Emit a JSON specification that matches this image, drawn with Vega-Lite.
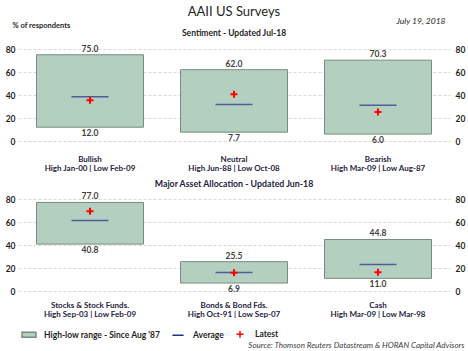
{
  "$schema": "https://vega.github.io/schema/vega-lite/v6.json",
  "padding": {"left": 5, "right": 4, "top": 5, "bottom": 0},
  "background": "white",
  "config": {
    "font": "Lato",
    "view": {"stroke": null},
    "axis": {"domain": false, "ticks": false, "labelFontSize": 8.5, "labelFontWeight": "bold", "labelColor": "#1f1f1f"},
    "axisY": {"values": [0, 20, 40, 60, 80], "gridDash": [3, 2], "gridColor": "#d9d9d9", "gridWidth": 1},
    "concat": {"spacing": 6}
  },
  "title": {
    "text": "AAII US Surveys",
    "subtitle": "Sentiment - Updated Jul-18",
    "fontSize": 13,
    "fontWeight": "normal",
    "color": "#1f1f1f",
    "subtitleFontSize": 8.5,
    "subtitleFontWeight": "bold",
    "subtitleColor": "#1f1f1f",
    "subtitlePadding": 10,
    "anchor": "middle",
    "frame": "group",
    "offset": -21
  },
  "datasets": {
    "sentiment": [
      {"label": "Bullish\nHigh Jan-00 | Low Feb-09", "high": 75.0, "low": 12.0, "avg": 38.5, "latest": 35.4},
      {"label": "Neutral\nHigh Jun-88 | Low Oct-08", "high": 62.0, "low": 7.7, "avg": 31.7, "latest": 40.6},
      {"label": "Bearish\nHigh Mar-09 | Low Aug-87", "high": 70.3, "low": 6.0, "avg": 31.0, "latest": 25.2}
    ],
    "allocation": [
      {"label": "Stocks & Stock Funds.\nHigh Sep-03 | Low Feb-09", "high": 77.0, "low": 40.8, "avg": 61.4, "latest": 69.3},
      {"label": "Bonds & Bond Fds.\nHigh Oct-91 | Low Sep-07", "high": 25.5, "low": 6.9, "avg": 16.0, "latest": 15.8},
      {"label": "Cash\nHigh Mar-09 | Low Mar-98", "high": 44.8, "low": 11.0, "avg": 23.1, "latest": 16.4}
    ]
  },
  "vconcat": [
    {
      "width": 432,
      "height": 92,
      "data": {"name": "sentiment"},
      "encoding": {
        "x": {
          "field": "label", "type": "nominal", "sort": null,
          "scale": {"paddingInner": 0.257, "paddingOuter": 0.1285},
          "axis": {"title": null, "labelAngle": 0, "labelPadding": 14, "labelLineHeight": 9.5, "labelFontSize": 8, "labelColor": "#1f2340", "labelExpr": "split(datum.value, '\\n')"}
        }
      },
      "layer": [
        {
          "layer": [
            {
              "mark": {"type": "bar", "fill": "#b3cfc0", "stroke": "#7a8a82", "strokeWidth": 1},
              "encoding": {
                "y": {"field": "high", "type": "quantitative", "scale": {"domain": [0, 80], "nice": false},
                  "axis": {"orient": "left", "grid": true, "labelPadding": 3, "title": "% of respondents", "titleAngle": 0, "titleAlign": "left", "titleBaseline": "middle", "titleX": -6, "titleY": -24, "titleFontSize": 7.5, "titleFontWeight": "bold", "titleColor": "#1f1f1f"}},
                "y2": {"field": "low"}
              }
            },
            {
              "mark": {"type": "tick", "color": "#1f2f8f", "thickness": 1.5, "size": 37},
              "encoding": {"y": {"field": "avg", "type": "quantitative", "title": "% of respondents"}}
            },
            {
              "mark": {"type": "point", "shape": "M-1,0H1M0,-1V1", "filled": false, "stroke": "#ff0000", "strokeWidth": 2, "size": 49, "opacity": 1},
              "encoding": {"y": {"field": "latest", "type": "quantitative", "title": "% of respondents"}}
            },
            {
              "mark": {"type": "text", "baseline": "bottom", "dy": -1, "fontSize": 8.5, "fontWeight": "bold", "color": "#404040"},
              "encoding": {"y": {"field": "high", "type": "quantitative", "title": "% of respondents"}, "text": {"field": "high", "format": ".1f"}}
            },
            {
              "mark": {"type": "text", "baseline": "top", "dy": 2, "fontSize": 8.5, "fontWeight": "bold", "color": "#404040"},
              "encoding": {"y": {"field": "low", "type": "quantitative", "title": "% of respondents"}, "text": {"field": "low", "format": ".1f"}}
            }
          ]
        },
        {
          "mark": {"type": "bar", "opacity": 0},
          "encoding": {
            "y": {"field": "high", "type": "quantitative", "scale": {"domain": [0, 80], "nice": false},
              "axis": {"orient": "right", "grid": false, "labelPadding": 5, "title": "July 19, 2018", "titleAngle": 0, "titleAlign": "right", "titleBaseline": "middle", "titleX": -5, "titleY": -29, "titleFontSize": 8.5, "titleFontWeight": "normal", "titleFontStyle": "italic", "titleColor": "#1f1f1f"}}
          }
        }
      ],
      "resolve": {"scale": {"y": "independent"}}
    },
    {
      "width": 432,
      "height": 92,
      "data": {"name": "allocation"},
      "title": {"text": "Major Asset Allocation - Updated Jun-18", "fontSize": 8.8, "fontWeight": "bold", "color": "#1f2340", "offset": 4, "frame": "group", "anchor": "middle"},
      "encoding": {
        "x": {
          "field": "label", "type": "nominal", "sort": null,
          "scale": {"paddingInner": 0.257, "paddingOuter": 0.1285},
          "axis": {"title": "Source: Thomson Reuters Datastream & HORAN Capital Advisors", "titleX": 446, "titleY": 54, "titleAlign": "right", "titleBaseline": "middle", "titleFontSize": 8, "titleFontStyle": "italic", "titleFontWeight": "normal", "titleColor": "#404040", "labelAngle": 0, "labelPadding": 10, "labelLineHeight": 9.5, "labelFontSize": 8, "labelColor": "#1f2340", "labelExpr": "split(datum.value, '\\n')"}
        }
      },
      "layer": [
        {
          "layer": [
            {
              "mark": {"type": "bar", "fill": "#b3cfc0", "stroke": "#7a8a82", "strokeWidth": 1},
              "encoding": {
                "y": {"field": "high", "type": "quantitative", "scale": {"domain": [0, 80], "nice": false},
                  "axis": {"orient": "left", "grid": true, "labelPadding": 3, "title": null}},
                "y2": {"field": "low"}
              }
            },
            {
              "mark": {"type": "tick", "color": "#1f2f8f", "thickness": 1.5, "size": 37},
              "encoding": {"y": {"field": "avg", "type": "quantitative", "title": null}}
            },
            {
              "mark": {"type": "point", "filled": false, "strokeWidth": 2, "size": 196, "opacity": 1},
              "encoding": {
                "y": {"field": "latest", "type": "quantitative", "title": null},
                "shape": {
                  "datum": "Latest", "type": "nominal",
                  "scale": {"domain": ["High-low range - Since Aug '87", "Average", "Latest"], "range": ["M-1,-0.35H1V0.35H-1Z", "M-0.8,0H0.8", "M-0.5,0H0.5M0,-0.5V0.5"]},
                  "legend": {"orient": "none", "legendX": 3, "legendY": 277, "direction": "horizontal", "title": null, "labelFontSize": 8.5, "labelFontWeight": "bold", "labelColor": "#1f1f1f", "labelOffset": 7, "columnPadding": 8, "symbolSize": 196, "symbolStrokeWidth": 1.5}
                },
                "fill": {
                  "datum": "Latest", "type": "nominal",
                  "scale": {"domain": ["High-low range - Since Aug '87", "Average", "Latest"], "range": ["#b3cfc0", "#1f2f8f", "#ff0000"]},
                  "legend": {"orient": "none", "legendX": 3, "legendY": 277, "direction": "horizontal", "title": null, "labelFontSize": 8.5, "labelFontWeight": "bold", "labelColor": "#1f1f1f", "labelOffset": 7, "columnPadding": 8, "symbolSize": 196, "symbolStrokeWidth": 1.5}
                },
                "stroke": {
                  "datum": "Latest", "type": "nominal",
                  "scale": {"domain": ["High-low range - Since Aug '87", "Average", "Latest"], "range": ["#7a8a82", "#1f2f8f", "#ff0000"]},
                  "legend": {"orient": "none", "legendX": 3, "legendY": 277, "direction": "horizontal", "title": null, "labelFontSize": 8.5, "labelFontWeight": "bold", "labelColor": "#1f1f1f", "labelOffset": 7, "columnPadding": 8, "symbolSize": 196, "symbolStrokeWidth": 1.5}
                }
              }
            },
            {
              "mark": {"type": "text", "baseline": "bottom", "dy": -1, "fontSize": 8.5, "fontWeight": "bold", "color": "#404040"},
              "encoding": {"y": {"field": "high", "type": "quantitative", "title": null}, "text": {"field": "high", "format": ".1f"}}
            },
            {
              "mark": {"type": "text", "baseline": "top", "dy": 2, "fontSize": 8.5, "fontWeight": "bold", "color": "#404040"},
              "encoding": {"y": {"field": "low", "type": "quantitative", "title": null}, "text": {"field": "low", "format": ".1f"}}
            }
          ]
        },
        {
          "mark": {"type": "bar", "opacity": 0},
          "encoding": {
            "y": {"field": "high", "type": "quantitative", "scale": {"domain": [0, 80], "nice": false},
              "axis": {"orient": "right", "grid": false, "labelPadding": 5, "title": null}}
          }
        }
      ],
      "resolve": {"scale": {"y": "independent"}}
    }
  ]
}
